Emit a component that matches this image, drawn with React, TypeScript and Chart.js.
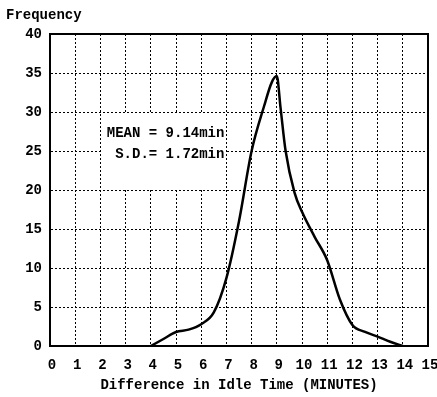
import React, { useEffect, useRef } from "react";
import { Chart, registerables } from "chart.js";

Chart.register(...registerables);

const idleMinutes = [4, 4.5, 5, 5.5, 6, 6.5, 7, 7.5, 8, 8.5, 8.8, 9, 9.15, 9.35, 9.7, 10, 10.5, 11, 11.5, 12, 12.5, 13, 13.5, 14];
const frequency = [0, 0.9, 1.8, 2.1, 2.8, 4.3, 8.7, 16, 25, 30.8, 33.8, 34.6, 30.5, 25, 19.7, 17.2, 14, 11, 6, 2.7, 1.8, 1.2, 0.55, 0];
const statLines = ["MEAN = 9.14min", "S.D.= 1.72min"];
const yAxisTitle = "Frequency";
const xAxisTitle = "Difference in Idle Time (MINUTES)";

const FONT = "'Liberation Mono', 'DejaVu Sans Mono', monospace";

const framePlugin = {
  id: "frame",
  beforeDatasetsDraw(chart: any) {
    const { ctx } = chart;
    const xs = chart.scales.x;
    const ys = chart.scales.y;
    const l = xs.getPixelForValue(2) + 1;
    const r = xs.getPixelForValue(7) - 1;
    const t = ys.getPixelForValue(30) + 1;
    const b = ys.getPixelForValue(20) - 1;
    ctx.save();
    ctx.fillStyle = "#fff";
    ctx.fillRect(l, t, r - l, b - t);
    ctx.restore();
  },
  afterDraw(chart: any) {
    const { ctx, chartArea } = chart;
    const xs = chart.scales.x;
    const ys = chart.scales.y;
    ctx.save();
    ctx.strokeStyle = "#000";
    ctx.lineWidth = 2;
    ctx.strokeRect(chartArea.left, chartArea.top, chartArea.right - chartArea.left, chartArea.bottom - chartArea.top);
    ctx.fillStyle = "#000";
    ctx.font = "bold 14px " + FONT;
    ctx.textAlign = "left";
    ctx.textBaseline = "middle";
    ctx.fillText(yAxisTitle, 6, 15);
    ctx.textAlign = "right";
    const rx = xs.getPixelForValue(7) - 2;
    ctx.fillText(statLines[0], rx, ys.getPixelForValue(27.3));
    ctx.fillText(statLines[1], rx, ys.getPixelForValue(24.5));
    ctx.restore();
  },
};

export default function App() {
  const ref = useRef<HTMLCanvasElement | null>(null);
  useEffect(() => {
    if (!ref.current) return;
    const chart = new Chart(ref.current, {
      type: "line",
      data: {
        datasets: [
          {
            data: idleMinutes.map((x, i) => ({ x, y: frequency[i] })),
            borderColor: "#000",
            borderWidth: 2.5,
            pointRadius: 0,
            fill: false,
            cubicInterpolationMode: "monotone",
          },
        ],
      },
      options: {
        animation: false,
        responsive: true,
        maintainAspectRatio: false,
        layout: { padding: { top: 34, right: 9, left: 0, bottom: 0 } },
        plugins: { legend: { display: false }, tooltip: { enabled: false } },
        scales: {
          x: {
            type: "linear",
            min: 0,
            max: 15,
            afterFit: (s: any) => {
              s.height = 51;
              s.paddingLeft = 0;
              s.paddingRight = 0;
            },
            ticks: {
              stepSize: 1,
              color: "#000",
              font: { family: FONT, size: 14, weight: "bold" },
              padding: 11,
              labelOffset: 2,
              maxRotation: 0,
              autoSkip: false,
            },
            grid: {
              color: "#000",
              lineWidth: 1,
              drawTicks: false,
            },
            border: { display: true, color: "#000", width: 2, dash: [2, 2] },
            title: {
              display: true,
              text: xAxisTitle,
              color: "#000",
              font: { family: FONT, size: 14, weight: "bold" },
              padding: { top: 0, bottom: 3 },
            },
          },
          y: {
            type: "linear",
            min: 0,
            max: 40,
            afterFit: (s: any) => {
              s.width = 50;
              s.paddingTop = 0;
              s.paddingBottom = 0;
            },
            ticks: {
              stepSize: 5,
              color: "#000",
              font: { family: FONT, size: 14, weight: "bold" },
              padding: 8,
            },
            grid: {
              color: "#000",
              lineWidth: 1,
              drawTicks: false,
            },
            border: { display: true, color: "#000", width: 2, dash: [2, 2] },
          },
        },
      } as any,
      plugins: [framePlugin],
    });
    return () => chart.destroy();
  }, []);
  return (
    <div style={{ position: "fixed", left: 0, top: 0, width: 437, height: 397, background: "#fff" }}>
      <canvas ref={ref} />
    </div>
  );
}
